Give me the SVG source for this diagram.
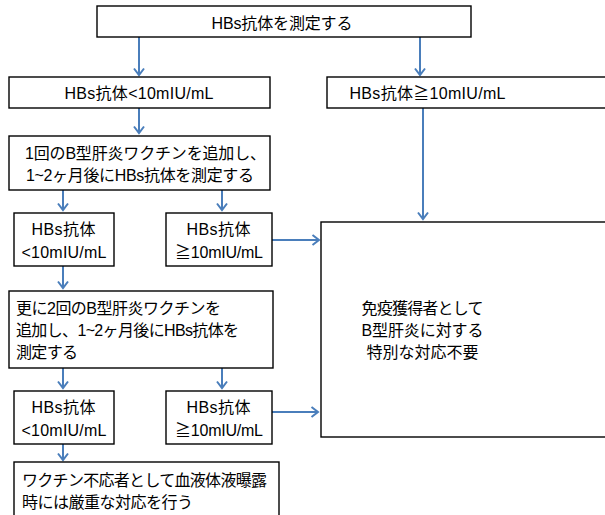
<svg xmlns="http://www.w3.org/2000/svg" width="605" height="515" viewBox="0 0 605 515">
<defs>
<style>
.b{fill:#fff;stroke:#000;stroke-width:1.4}
.t{font-family:"Liberation Sans","Noto Sans CJK JP",sans-serif;font-size:16px;fill:#000}
.m{text-anchor:middle}
.c{stroke:#4a7ebb;stroke-width:2;fill:none;marker-end:url(#ah)}
</style>
<marker id="ah" markerUnits="userSpaceOnUse" orient="auto" markerWidth="12" markerHeight="12" refX="0" refY="0" viewBox="-8 -6 10 12" overflow="visible">
<path d="M-6.5,-5 L0,0 L-6.5,5" fill="none" stroke="#4a7ebb" stroke-width="2"/>
</marker>
</defs>
<rect width="605" height="515" fill="#fff"/>
<g id="connectors">
<line class="c" x1="139" y1="37" x2="139" y2="75"/>
<line class="c" x1="420" y1="37" x2="420" y2="75"/>
<line class="c" x1="139" y1="108" x2="139" y2="133"/>
<line class="c" x1="63" y1="190" x2="63" y2="210"/>
<line class="c" x1="222" y1="190" x2="222" y2="210"/>
<line class="c" x1="423" y1="108" x2="423" y2="219"/>
<line class="c" x1="272" y1="240" x2="319" y2="240"/>
<line class="c" x1="63" y1="266" x2="63" y2="288"/>
<line class="c" x1="63" y1="368" x2="63" y2="388"/>
<line class="c" x1="222" y1="368" x2="222" y2="388"/>
<line class="c" x1="272" y1="412" x2="318" y2="412"/>
<line class="c" x1="63" y1="444" x2="63" y2="460"/>
</g>
<g id="n1"><rect class="b" x="97" y="6" width="374" height="31"/><text class="t m" x="282" y="29" textLength="141">HBs抗体を測定する</text></g>
<g id="n2"><rect class="b" x="9" y="77" width="261" height="31"/><text class="t m" x="139" y="99" textLength="149">HBs抗体&lt;10mIU/mL</text></g>
<g id="n3"><rect class="b" x="327" y="77" width="285" height="31"/><text class="t m" x="427.5" y="99" textLength="156">HBs抗体≧10mIU/mL</text></g>
<g id="n4"><rect class="b" x="9" y="136" width="261" height="54"/><text class="t" x="25" y="159" textLength="241">1回のB型肝炎ワクチンを追加し、</text><text class="t" x="26" y="181" textLength="228">1~2ヶ月後にHBs抗体を測定する</text></g>
<g id="n5"><rect class="b" x="14" y="213" width="100" height="53"/><text class="t m" x="63.5" y="235" textLength="64">HBs抗体</text><text class="t m" x="64" y="258" textLength="85">&lt;10mIU/mL</text></g>
<g id="n6"><rect class="b" x="166" y="213" width="106" height="53"/><text class="t m" x="218.5" y="235" textLength="64">HBs抗体</text><text class="t m" x="219" y="258" textLength="88">≧10mIU/mL</text></g>
<g id="n7"><rect class="b" x="321" y="222" width="295" height="215"/><text class="t m" x="422.5" y="314" textLength="122">免疫獲得者として</text><text class="t m" x="422.5" y="336" textLength="122">B型肝炎に対する</text><text class="t m" x="422.5" y="358" textLength="112">特別な対応不要</text></g>
<g id="n8"><rect class="b" x="9" y="291" width="264" height="77"/><text class="t" x="16" y="314" textLength="205">更に2回のB型肝炎ワクチンを</text><text class="t" x="16" y="336" textLength="223">追加し、1~2ヶ月後にHBs抗体を</text><text class="t" x="16" y="358" textLength="62">測定する</text></g>
<g id="n9"><rect class="b" x="14" y="391" width="100" height="53"/><text class="t m" x="63.5" y="413" textLength="64">HBs抗体</text><text class="t m" x="64" y="436" textLength="85">&lt;10mIU/mL</text></g>
<g id="n10"><rect class="b" x="166" y="391" width="106" height="53"/><text class="t m" x="218.5" y="413" textLength="64">HBs抗体</text><text class="t m" x="219" y="436" textLength="88">≧10mIU/mL</text></g>
<g id="n11"><rect class="b" x="14" y="462" width="265" height="60"/><text class="t" x="22" y="486" textLength="245">ワクチン不応者として血液体液曝露</text><text class="t" x="22" y="508" textLength="171">時には厳重な対応を行う</text></g>
</svg>
